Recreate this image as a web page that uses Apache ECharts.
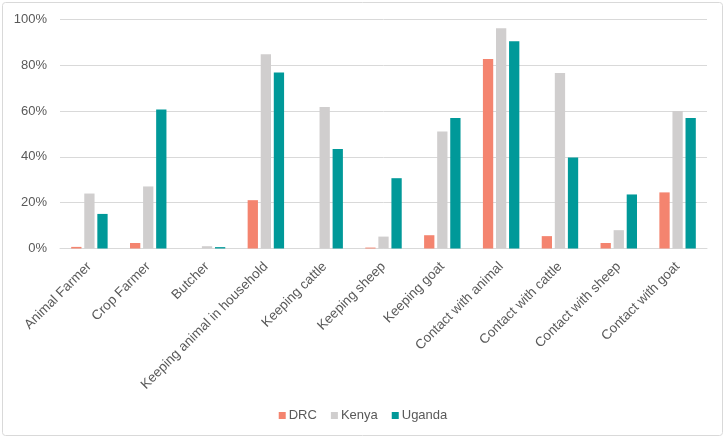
<!DOCTYPE html>
<html>
<head>
<meta charset="utf-8">
<script src="https://cdn.jsdelivr.net/npm/echarts@6/dist/echarts.min.js"></script>
<style>
html,body{margin:0;padding:0;background:#fff;}
#chart{width:726px;height:439px;}
</style>
</head>
<body>
<div id="chart"></div>
<script>
const categories = ["Animal Farmer","Crop Farmer","Butcher","Keeping animal in household","Keeping cattle","Keeping sheep","Keeping goat","Contact with animal","Contact with cattle","Contact with sheep","Contact with goat"];
const drc =    [0.7, 2.4, 0,   21.1, 0,    0.4, 5.8,  82.7, 5.4,  2.4, 24.5];
const kenya =  [24.0, 27.1, 1.0, 84.8, 61.8, 5.2, 51.1, 96.2, 76.6, 8.0, 60.0];
const uganda = [15.1, 60.7, 0.6, 76.9, 43.4, 30.7, 57.0, 90.5, 39.7, 23.6, 57.0];
const yTicks = [0, 20, 40, 60, 80, 100];

const chart = echarts.init(document.getElementById('chart'), null, {renderer:'canvas'});
const font = 'Liberation Sans, Arial, sans-serif';
chart.setOption({
  animation:false,
  textStyle:{fontFamily:font},
  graphic:[{type:'rect', shape:{x:2.5,y:2.5,width:720,height:433,r:3}, style:{fill:'none',stroke:'#d9d9d9',lineWidth:1}, silent:true}],
  grid:{left:60,right:19,top:19.5,bottom:190.5,containLabel:false},
  legend:{
    bottom:12, left:'center', itemWidth:7, itemHeight:7, itemGap:14,
    icon:'rect',
    textStyle:{color:'#595959',fontSize:13,fontFamily:font, padding:[0,0,0,-2]},
    data:['DRC','Kenya','Uganda']
  },
  xAxis:{
    type:'category', data:categories,
    axisLine:{lineStyle:{color:'#d9d9d9'}},
    axisTick:{show:false},
    axisLabel:{rotate:45, interval:0, color:'#595959', fontSize:13.5, fontFamily:font, margin:16}
  },
  yAxis:{
    type:'value', min:yTicks[0], max:yTicks[yTicks.length-1], interval:20,
    axisLine:{show:false}, axisTick:{show:false},
    splitLine:{lineStyle:{color:'#d9d9d9'}},
    axisLabel:{formatter:'{value}%', color:'#595959', fontSize:13, fontFamily:font, margin:13}
  },
  series:[
    {name:'DRC', type:'bar', data:drc, barWidth:'17.5%', barGap:'27%', itemStyle:{color:'#F4846F'}},
    {name:'Kenya', type:'bar', data:kenya, barWidth:'17.5%', barGap:'27%', itemStyle:{color:'#D0CECE'}},
    {name:'Uganda', type:'bar', data:uganda, barWidth:'17.5%', barGap:'27%', itemStyle:{color:'#009999'}}
  ]
});
</script>
</body>
</html>
